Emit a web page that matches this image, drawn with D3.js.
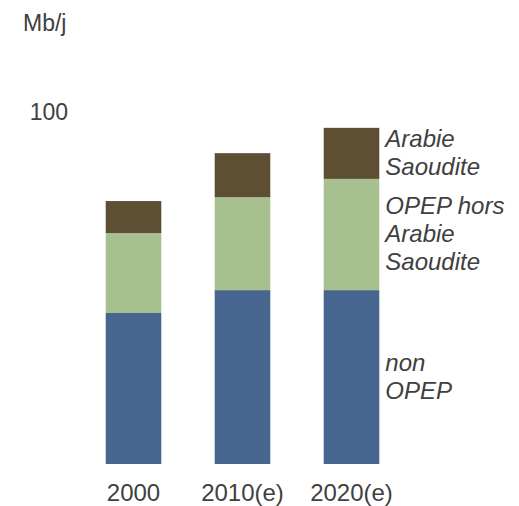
<!DOCTYPE html>
<html>
<head>
<meta charset="utf-8">
<script src="https://cdn.jsdelivr.net/npm/d3@7"></script>
<style>
  body { margin: 0; background: #fff; }
  text { font-family: "Liberation Sans", Arial, sans-serif; fill: #404040; }
</style>
</head>
<body>
<div id="container"></div>
<script>
/* CONSTANTS AND GLOBALS */
const width = 519;
const height = 506;
const margin = { top: 112, bottom: 42, left: 106, right: 140 };

/* DATA */
const years = ["2000", "2010(e)", "2020(e)"];
const nonOpep = [42.9, 49.4, 49.4];
const opepHorsArabie = [22.7, 26.4, 31.6];
const arabieSaoudite = [9.1, 12.5, 14.5];
const seriesNames = ["nonOpep", "opepHorsArabie", "arabieSaoudite"];
const seriesLabels = [["non", "OPEP"], ["OPEP hors", "Arabie", "Saoudite"], ["Arabie", "Saoudite"]];
const colors = ["#46668f", "#a7c08f", "#5e4f34"];
const yTicks = [100];

const table = years.map((y, i) => ({
  year: y,
  nonOpep: nonOpep[i],
  opepHorsArabie: opepHorsArabie[i],
  arabieSaoudite: arabieSaoudite[i]
}));

const stack = d3.stack().keys(seriesNames)(table);

/* SCALES */
const xScale = d3.scaleBand()
  .domain(years)
  .range([margin.left - 27, 406])
  .paddingInner(0.49)
  .paddingOuter(0.245);

const yScale = d3.scaleLinear()
  .domain([0, 100])
  .range([height - margin.bottom, margin.top]);

const svg = d3.select("#container")
  .append("svg")
  .attr("width", width)
  .attr("height", height);

// bars
svg.selectAll(".layer")
  .data(stack)
  .join("g")
  .attr("class", "layer")
  .attr("fill", (d, i) => colors[i])
  .selectAll("rect")
  .data(d => d)
  .join("rect")
  .attr("x", d => xScale(d.data.year))
  .attr("width", xScale.bandwidth())
  .attr("y", d => yScale(d[1]))
  .attr("height", d => yScale(d[0]) - yScale(d[1]));

// x axis labels
const xAxis = svg.append("g")
  .attr("transform", `translate(0,${height - margin.bottom})`)
  .call(d3.axisBottom(xScale).tickSize(0).tickPadding(20));
xAxis.select(".domain").remove();
xAxis.selectAll("text")
  .attr("font-size", 24)
  .attr("font-family", "Liberation Sans, Arial, sans-serif")
  .attr("fill", "#404040");

// y axis: only the 100 label
const yAxis = svg.append("g")
  .attr("transform", `translate(68,0)`)
  .call(d3.axisLeft(yScale).tickValues(yTicks).tickSize(0).tickPadding(0));
yAxis.select(".domain").remove();
yAxis.selectAll("text")
  .attr("font-size", 23)
  .attr("font-family", "Liberation Sans, Arial, sans-serif")
  .attr("fill", "#404040");

// unit
svg.append("text")
  .attr("x", 23)
  .attr("y", 31)
  .attr("font-size", 23)
  .text("Mb/j");

// series labels next to the last bar
const last = years.length - 1;
const lineH = 28;
const lx = xScale(years[last]) + xScale.bandwidth() + 6;
stack.forEach((layer, i) => {
  const seg = layer[last];
  const cy = (yScale(seg[0]) + yScale(seg[1])) / 2;
  const lines = seriesLabels[i];
  const t = svg.append("text")
    .attr("x", lx)
    .attr("font-size", 24)
    .attr("font-style", "italic");
  lines.forEach((l, j) => {
    t.append("tspan")
      .attr("x", lx)
      .attr("y", cy + (j - (lines.length - 1) / 2) * lineH + 8)
      .text(l);
  });
});
</script>
</body>
</html>
